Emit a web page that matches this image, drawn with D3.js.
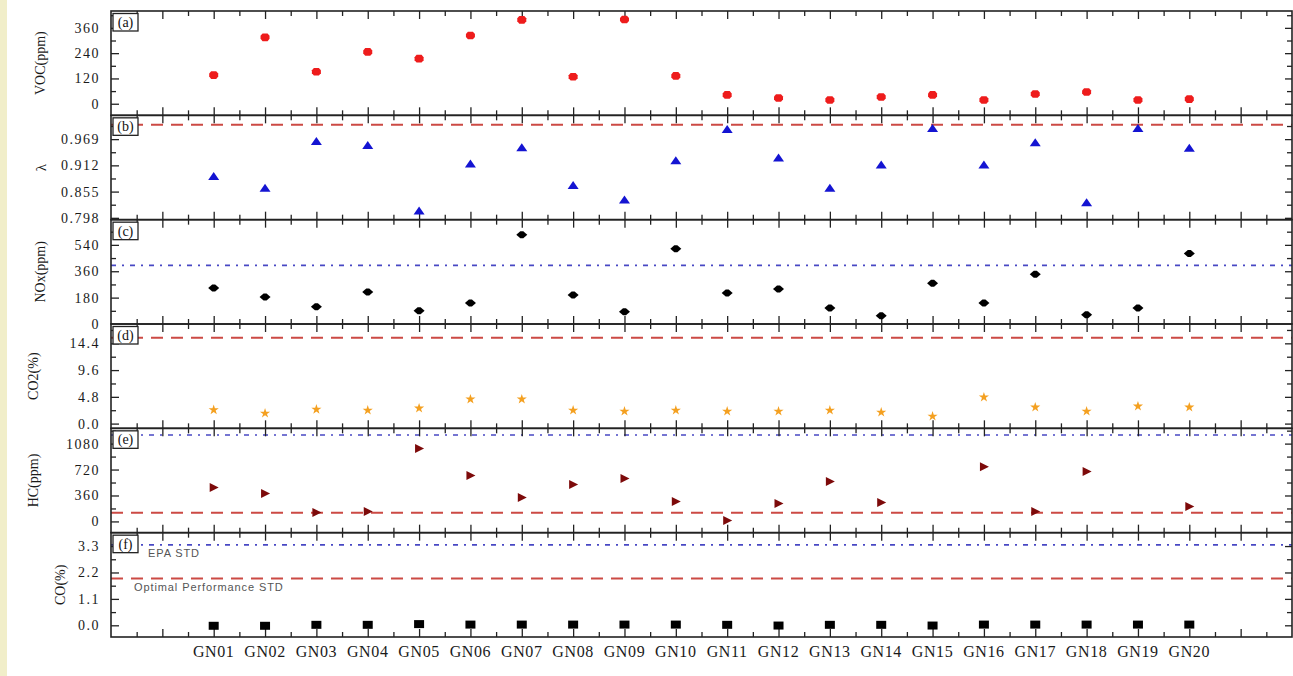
<!DOCTYPE html>
<html>
<head>
<meta charset="utf-8">
<script src="https://cdn.jsdelivr.net/npm/d3@7"></script>
<style>
  html, body { margin: 0; padding: 0; background: #ffffff; }
  svg { display: block; }
</style>
</head>
<body>
<svg id="chart" width="1293" height="676"></svg>
<script>
// ---------------- DATA ----------------
const categories = ["GN01","GN02","GN03","GN04","GN05","GN06","GN07","GN08","GN09","GN10",
                    "GN11","GN12","GN13","GN14","GN15","GN16","GN17","GN18","GN19","GN20"];

const vocValues    = [136, 315, 152, 246, 214, 324, 398, 128, 400, 132, 42, 27, 18, 32, 42, 18, 46, 56, 18, 22];
const lambdaValues = [0.888, 0.862, 0.964, 0.955, 0.813, 0.915, 0.950, 0.868, 0.837, 0.922,
                      0.990, 0.928, 0.862, 0.913, 0.992, 0.913, 0.961, 0.831, 0.992, 0.949];
const noxValues    = [246, 184, 117, 218, 90, 144, 609, 198, 83, 514, 211, 238, 110, 56, 278, 144, 339, 63, 110, 481];
const co2Values    = [2.45, 1.85, 2.55, 2.39, 2.75, 4.37, 4.37, 2.39, 2.21, 2.39,
                      2.21, 2.21, 2.39, 2.03, 1.31, 4.73, 2.93, 2.21, 3.11, 2.93];
const hcValues     = [471, 388, 125, 138, 1011, 637, 332, 512, 595, 277, 14, 249, 554, 263, null, 760, 138, 692, null, 207];
const coValues     = [-0.02, -0.02, 0.02, 0.02, 0.05, 0.03, 0.03, 0.03, 0.03, 0.03,
                      0.02, -0.01, 0.02, 0.02, -0.01, 0.03, 0.03, 0.03, 0.03, 0.03];

const vocTicks    = [0, 120, 240, 360];
const vocTickLabels = ["0", "120", "240", "360"];
const lambdaTicks = [0.798, 0.855, 0.912, 0.969];
const lambdaTickLabels = ["0.798", "0.855", "0.912", "0.969"];
const noxTicks    = [0, 180, 360, 540];
const noxTickLabels = ["0", "180", "360", "540"];
const co2Ticks    = [0, 4.8, 9.6, 14.4];
const co2TickLabels = ["0.0", "4.8", "9.6", "14.4"];
const hcTicks     = [0, 360, 720, 1080];
const hcTickLabels = ["0", "360", "720", "1080"];
const coTicks     = [0, 1.1, 2.2, 3.3];
const coTickLabels = ["0.0", "1.1", "2.2", "3.3"];

const panelLetters = ["(a)", "(b)", "(c)", "(d)", "(e)", "(f)"];
const panelTitles  = ["VOC(ppm)", "λ", "NOx(ppm)", "CO2(%)", "HC(ppm)", "CO(%)"];

// reference (standard) lines
const lambdaRedLine = [1.0];
const noxBlueLine   = [400];
const co2RedLine    = [15.4];
const hcBlueLine    = [1200];
const hcRedLine     = [120];
const coBlueLine    = [3.35];
const coRedLine     = [1.95];
const coLineLabels  = ["EPA STD", "Optimal Performance STD"];

// ---------------- LAYOUT ----------------
const svg = d3.select("#chart");
svg.append("rect").attr("x", 0).attr("y", 0).attr("width", 7).attr("height", 676).attr("fill", "#f1eec9");

const plotLeft = 111, plotRight = 1292, plotTop = 11, plotBottom = 637;
const nPanels = 6;
const ph = (plotBottom - plotTop) / nPanels;

const x = d3.scaleLinear().domain([-1, 22]).range([plotLeft, plotRight]);
const xMajor = d3.range(0, 22);
const xMinor = d3.range(-0.5, 22, 1);

const panels = [
  {values: vocValues,    domain: [-55, 440],       ticks: vocTicks,    labels: vocTickLabels,    titleX: 40,
   red: [], blue: [], marker: "circle"},
  {values: lambdaValues, domain: [0.794, 1.0207],  ticks: lambdaTicks, labels: lambdaTickLabels, titleX: 41,
   red: lambdaRedLine, blue: [], marker: "triUp"},
  {values: noxValues,    domain: [0, 712],         ticks: noxTicks,    labels: noxTickLabels,    titleX: 40,
   red: [], blue: noxBlueLine, marker: "diamond"},
  {values: co2Values,    domain: [-0.85, 17.87],   ticks: co2Ticks,    labels: co2TickLabels,    titleX: 33,
   red: co2RedLine, blue: [], marker: "star"},
  {values: hcValues,     domain: [-156, 1292],     ticks: hcTicks,     labels: hcTickLabels,     titleX: 33,
   red: hcRedLine, blue: hcBlueLine, marker: "triRight"},
  {values: coValues,     domain: [-0.487, 3.858],  ticks: coTicks,     labels: coTickLabels,     titleX: 60,
   red: coRedLine, blue: coBlueLine, marker: "square"}
];

const markerStyle = {
  circle:   {fill: "#ee1c1c"},
  triUp:    {fill: "#1414d2"},
  diamond:  {fill: "#000000"},
  star:     {fill: "#f4a020"},
  triRight: {fill: "#7d0a0a"},
  square:   {fill: "#000000"}
};

function markerPath(type) {
  switch (type) {
    case "circle":   return "M-4.5,-1.5 L-2.5,-3.8 L2.5,-3.8 L4.5,-1.5 L4.5,1.5 L2.5,3.8 L-2.5,3.8 L-4.5,1.5 Z";
    case "triUp":    return "M0,-4.5 L5.5,3.5 L-5.5,3.5 Z";
    case "diamond":  return "M-5.5,0 L-1.5,-3.5 L1.5,-3.5 L5.5,0 L1.5,3.5 L-1.5,3.5 Z";
    case "star":     return d3.symbol(d3.symbolStar, 32)();
    case "triRight": return "M-4,-4.5 L5,0 L-4,4.5 Z";
    case "square":   return "M-5,-4 L5,-4 L5,4 L-5,4 Z";
  }
}

function styleTicks(s) {
  s.select(".domain").remove();
  s.selectAll("line").attr("stroke", "#222").attr("stroke-width", 1.3);
}

panels.forEach((p, i) => {
  const y0 = plotTop + i * ph, y1 = y0 + ph;
  const y = d3.scaleLinear().domain(p.domain).range([y1, y0]);
  const g = svg.append("g");

  // reference lines
  p.red.forEach(v => {
    g.append("line").attr("x1", plotLeft).attr("x2", plotRight).attr("y1", y(v)).attr("y2", y(v))
      .attr("stroke", "#cc4a44").attr("stroke-width", 2).attr("stroke-dasharray", "12,8");
  });
  p.blue.forEach(v => {
    g.append("line").attr("x1", plotLeft).attr("x2", plotRight).attr("y1", y(v)).attr("y2", y(v))
      .attr("stroke", "#4848c4").attr("stroke-width", 1.6).attr("stroke-dasharray", "5,6,2,6");
  });

  // minor y ticks
  const step = p.ticks[1] - p.ticks[0];
  const yMinor = [];
  for (let k = -2; k < p.ticks.length + 2; k++) {
    const v = p.ticks[0] + step * (k + 0.5);
    if (v > p.domain[0] && v < p.domain[1] && Math.abs(y(v) - y0) > 1.5 && Math.abs(y(v) - y1) > 1.5) yMinor.push(v);
  }
  const majorY = p.ticks.filter(v => Math.abs(y(v) - y1) > 1.5);

  // axes (inside ticks)
  const axL = g.append("g").attr("transform", `translate(${plotLeft},0)`)
    .call(d3.axisLeft(y).tickValues(p.ticks).tickSize(-8).tickPadding(11)
      .tickFormat((d, k) => p.labels[k]));
  axL.select(".domain").remove();
  axL.selectAll(".tick line").attr("stroke", (d) => Math.abs(y(d) - y1) > 1.5 ? "#222" : "none").attr("stroke-width", 1.3);
  axL.selectAll("text").attr("font-family", "'Liberation Serif', 'Times New Roman', serif")
    .attr("font-size", 14).attr("letter-spacing", 1.5).attr("fill", "#1a1a1a");
  g.append("g").attr("transform", `translate(${plotLeft},0)`)
    .call(d3.axisLeft(y).tickValues(yMinor).tickSize(-5).tickFormat(""))
    .call(styleTicks);

  g.append("g").attr("transform", `translate(${plotRight},0)`)
    .call(d3.axisRight(y).tickValues(majorY).tickSize(-7).tickFormat(""))
    .call(styleTicks);
  g.append("g").attr("transform", `translate(${plotRight},0)`)
    .call(d3.axisRight(y).tickValues(yMinor).tickSize(-5).tickFormat(""))
    .call(styleTicks);

  // x ticks top and bottom
  [[y0, d3.axisTop], [y1, d3.axisBottom]].forEach(([yy, ax]) => {
    g.append("g").attr("transform", `translate(0,${yy})`)
      .call(ax(x).tickValues(xMajor).tickSize(-8).tickFormat(""))
      .call(styleTicks);
    g.append("g").attr("transform", `translate(0,${yy})`)
      .call(ax(x).tickValues(xMinor).tickSize(-5).tickFormat(""))
      .call(styleTicks);
  });

  // frame
  g.append("rect").attr("x", plotLeft).attr("y", y0).attr("width", plotRight - plotLeft).attr("height", ph)
    .attr("fill", "none").attr("stroke", "#222").attr("stroke-width", 1.6);

  // panel letter box
  g.append("rect").attr("x", 113).attr("y", y0 + 2.5).attr("width", 25).attr("height", 17.5)
    .attr("fill", "#fff").attr("stroke", "#222").attr("stroke-width", 1.3);
  g.append("text").attr("x", 125.5).attr("y", y0 + 11.5).attr("text-anchor", "middle")
    .attr("dominant-baseline", "central")
    .attr("font-family", "'Liberation Serif', 'Times New Roman', serif").attr("font-size", 14)
    .attr("fill", "#111").text(panelLetters[i]);

  // y title
  g.append("text").attr("transform", `translate(${p.titleX},${(y0 + y1) / 2}) rotate(-90)`)
    .attr("text-anchor", "middle").attr("dominant-baseline", "central")
    .attr("font-family", "'Liberation Serif', 'Times New Roman', serif").attr("font-size", i === 1 ? 15 : 14)
    .attr("fill", "#1a1a1a").text(panelTitles[i]);

  // markers
  const st = markerStyle[p.marker];
  g.append("g").selectAll("path")
    .data(p.values.map((v, k) => ({v, k})).filter(d => d.v !== null))
    .join("path")
    .attr("d", markerPath(p.marker))
    .attr("transform", d => `translate(${x(d.k + 1)},${y(d.v)})`)
    .attr("fill", st.fill);

  if (i === 5) {
    g.append("text").attr("x", 148).attr("y", y(p.blue[0]) + 12)
      .attr("font-family", "'Liberation Sans', Arial, sans-serif").attr("font-size", 11)
      .attr("letter-spacing", 0.9).attr("fill", "#555").text(coLineLabels[0]);
    g.append("text").attr("x", 134).attr("y", y(p.red[0]) + 13)
      .attr("font-family", "'Liberation Sans', Arial, sans-serif").attr("font-size", 11)
      .attr("letter-spacing", 0.9).attr("fill", "#555").text(coLineLabels[1]);
  }
});

// x labels
svg.append("g").selectAll("text").data(categories).join("text")
  .attr("x", (d, k) => x(k + 1)).attr("y", 651)
  .attr("text-anchor", "middle").attr("dominant-baseline", "central")
  .attr("font-family", "'Liberation Serif', 'Times New Roman', serif").attr("font-size", 16)
  .attr("letter-spacing", 0.6).attr("fill", "#1a1a1a").text(d => d);
</script>
</body>
</html>
